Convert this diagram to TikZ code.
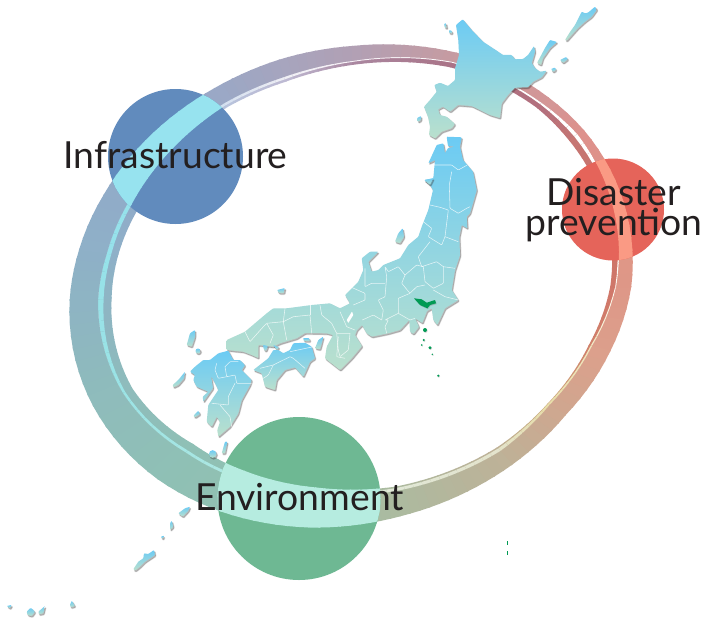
\documentclass[tikz,border=0pt]{standalone}
\usepackage{fontspec}
\setmainfont{Lato}
\definecolor{inkc}{RGB}{35,31,32}
\definecolor{infrac}{RGB}{97,139,189}
\definecolor{disc}{RGB}{229,100,90}
\definecolor{envc}{RGB}{110,184,147}
\definecolor{infrah}{RGB}{151,227,239}
\definecolor{dish}{RGB}{250,154,132}
\definecolor{envh}{RGB}{182,236,224}
\definecolor{mapa}{RGB}{108,203,244}
\definecolor{mapb}{RGB}{186,224,205}
\definecolor{tokyoc}{RGB}{0,154,84}
\def\Kt{{0,14,31,48,78,100,120,135,155,177,187.5,200,235,252,270,294,316,326,345,360}}
\def\KA{{1,4.5,7.5,5.5,2.5,-1,-3,-4,-3,-1,0.5,1.5,1,0,0,-2.5,-1.5,-1.5,0,1}}
\def\KB{{16,23.5,26.5,23.5,28,33,34,34.5,29.4,27.5,28.5,27,19,18,15,7.5,7,6,12,16}}
\def\KC{{17,25,28.5,27,31,36,37,37.5,32,33,33,31,21.5,20.5,16,8.5,9,10,14,17}}
\def\KD{{22,27,29,28.5,32.5,39.6,44,46,40,41,40,39,24,23,19,13.5,14,16.5,20,22}}
\def\Kbr{{222,220,206,190,172,160,145,143,143,142,143,145,155,167,178,200,212,222,225,222}}
\def\Kbg{{152,160,168,178,187,192,192,192,188,180,176,172,168,165,160,155,150,145,150,152}}
\def\Kbb{{136,140,144,152,160,170,178,182,188,196,200,200,198,190,180,160,150,140,135,136}}
\def\Kgr{{255,240,232,228,225,190,176,165,155,152,150,150,215,240,250,255,255,255,255,255}}
\def\Kgg{{250,230,222,228,232,235,232,230,228,226,226,226,225,240,245,255,255,255,255,250}}
\def\Kgb{{240,190,170,205,215,222,226,228,230,232,235,235,240,245,250,255,255,255,255,240}}
\def\Ksr{{208,208,205,190,172,160,145,143,143,142,143,145,185,190,170,170,180,198,205,208}}
\def\Ksg{{120,130,175,178,187,192,192,192,188,180,176,172,195,185,135,115,112,118,115,120}}
\def\Ksb{{106,108,130,152,160,170,178,182,188,196,200,200,220,210,160,135,125,115,105,106}}
\pgfmathdeclarefunction{rE}{1}{\pgfmathparse{31.623*sqrt(4566.5/(58.081*cos(#1)*cos(#1)+12*cos(#1)*sin(#1)+79.242*sin(#1)*sin(#1)))}}
\newcommand\RgVal[2]{% span, frac
  \pgfmathsetmacro\vT{\Kt[#1]*(1-#2)+\Kt[#1+1]*#2}
  \pgfmathsetmacro\vE{rE(\vT)}
  \pgfmathsetmacro\vA{\vE-(\KA[#1]*(1-#2)+\KA[#1+1]*#2)}
  \pgfmathsetmacro\vB{\vE-(\KB[#1]*(1-#2)+\KB[#1+1]*#2)}
  \pgfmathsetmacro\vC{\vE-(\KC[#1]*(1-#2)+\KC[#1+1]*#2)}
  \pgfmathsetmacro\vD{\vE-(\KD[#1]*(1-#2)+\KD[#1+1]*#2)}
}
\newcommand\RgMix[4]{% color name, r-array, g-array, b-array ; uses \kk,\ff
  \pgfmathtruncatemacro\cR{#2[\kk]*(1-\ff)+#2[\kk+1]*\ff}
  \pgfmathtruncatemacro\cG{#3[\kk]*(1-\ff)+#3[\kk+1]*\ff}
  \pgfmathtruncatemacro\cB{#4[\kk]*(1-\ff)+#4[\kk+1]*\ff}
  \definecolor{#1}{RGB}{\cR,\cG,\cB}
}
\newcommand\PT[2]{({352+(#1)*cos(#2)},{286+(#1)*sin(#2)})}
\newcommand\RingSpans{%
  \foreach \kk in {0,...,18}{
    \pgfmathsetmacro\spn{\Kt[\kk+1]-\Kt[\kk]}
    \pgfmathtruncatemacro\NN{max(2,ceil(\spn/2.5))}
    \foreach \j in {1,...,\NN}{
      \pgfmathsetmacro\ff{(\j-1)/\NN}
      \pgfmathsetmacro\fg{\j/\NN+0.35/\spn}
      \RgMix{bandc}{\Kbr}{\Kbg}{\Kbb}
      \RgMix{gapc}{\Kgr}{\Kgg}{\Kgb}
      \RgMix{stripc}{\Ksr}{\Ksg}{\Ksb}
      \RgVal{\kk}{\fg}
      \let\tb\vT \let\Ab\vA \let\Bb\vB \let\Cb\vC \let\Db\vD
      \RgVal{\kk}{\ff}
      \fill[stripc] \PT{\vB}{\vT} -- \PT{\vD}{\vT} -- \PT{\Db}{\tb} -- \PT{\Bb}{\tb} -- cycle;
      \fill[gapc] \PT{\vB}{\vT} -- \PT{\vC}{\vT} -- \PT{\Cb}{\tb} -- \PT{\Bb}{\tb} -- cycle;
      \fill[bandc] \PT{\vA}{\vT} -- \PT{\vB}{\vT} -- \PT{\Bb}{\tb} -- \PT{\Ab}{\tb} -- cycle;
    }
  }
}
\newcommand\RingHL[4]{% spans, inner key (B/C/D), colour, clip circle
  \begin{scope}
    \clip #4;
    \foreach \kk in {#1}{
      \pgfmathsetmacro\spn{\Kt[\kk+1]-\Kt[\kk]}
      \pgfmathtruncatemacro\NN{max(2,ceil(\spn/2.5))}
      \foreach \j in {1,...,\NN}{
        \pgfmathsetmacro\ff{(\j-1)/\NN}
        \pgfmathsetmacro\fg{\j/\NN+0.35/\spn}
        \RgVal{\kk}{\fg}
        \let\tb\vT \let\Ab\vA \edef\Ib{\csname v#2\endcsname}
        \RgVal{\kk}{\ff}
        \edef\Ia{\csname v#2\endcsname}
        \fill[#3] \PT{\vA}{\vT} -- \PT{\Ia}{\vT} -- \PT{\Ib}{\tb} -- \PT{\Ab}{\tb} -- cycle;
      }
    }
  \end{scope}
}
\newcommand\Land[2][]{%
  \path[fill=black,opacity=.13,draw=black,line width=1.2pt,xshift=1pt,yshift=-1.4pt,rounded corners=.8pt,line join=round] #2;
  \path[fill=black!60,opacity=.3,xshift=1pt,yshift=-1.4pt,rounded corners=.8pt] #2;
  \path[top color=mapa,bottom color=mapb,rounded corners=.8pt,#1] #2;
}
\newcommand\Green[1]{%
  \path[fill=black!60,opacity=.3,xshift=.6pt,yshift=-.8pt] #1;
  \path[fill=tokyoc] #1;
}
\tikzset{
  pref/.style={draw=white,opacity=.75,line width=.55pt,line join=round,rounded corners=.6pt},
  lbl/.style={text=inkc,anchor=base,inner sep=0pt,font=\fontsize{37.3}{30}\selectfont},
  ballnode/.style={circle,inner sep=0pt,draw=none}
}
\begin{document}
\begin{tikzpicture}[x=1pt,y=-1pt]
\useasboundingbox (0,0) rectangle (703,618);
\fill[white] (0,0) rectangle (703,618);
\RingSpans
% circles
\node[ballnode,fill=infrac,minimum size=135pt] (infra) at (175.5,156.5) {};
\node[ballnode,fill=disc,minimum size=102pt] (disaster) at (613,209.5) {};
\node[ballnode,fill=envc,minimum size=163pt] (envir) at (299,498.5) {};
\RingHL{10,11,12}{C}{infrah}{(175.5,156.5) circle (67.5pt)}
\RingHL{17,18,0}{B}{dish}{(613,209.5) circle (51pt)}
\RingHL{3,4,5,6}{D}{envh}{(299,498.5) circle (81.5pt)}
% Hokkaido
\Land{(456,25) -- (462.7,19.3) -- (471.7,30) -- (483,41.7) -- (496.7,50.7) -- (503,55) -- (511.7,55) -- (515,59.3) -- (523,59) -- (528,55) -- (534,46) -- (535,51.7) -- (531.7,63) -- (535,68) -- (540,71.7) -- (546.7,70.7) -- (541.7,77.3) -- (533,81.7) -- (528,87.3) -- (515,87.7) -- (508,95) -- (501.7,103.3) -- (500,118) -- (490,115) -- (471.7,106) -- (458,105) -- (450,111.7) -- (443,106.7) -- (438,109.3) -- (440,115) -- (446.7,116.7) -- (455,124) -- (451.7,128.3) -- (441.7,131.7) -- (435,138.3) -- (429,135) -- (430,126.7) -- (428,116.7) -- (424,106.7) -- (430,100) -- (436.7,91.7) -- (434.3,85) -- (440,82.7) -- (448,86) -- (455,80) -- (455,68.3) -- (459,55) -- (458.3,40) -- cycle}
\Land{(444,24) -- (446,23) -- (447,28) -- (445,28) -- cycle}
\Land{(449,30) -- (452,31) -- (452,33.5) -- (449,33) -- cycle}
\Land{(417,118) -- (421,116) -- (421,120) -- (418,122) -- cycle}
\Land{(537,63) -- (545,48) -- (550,40) -- (557,42) -- (550,48) -- (543,58) -- (541,65) -- cycle}
\Land{(565,40) -- (570,32) -- (575,25) -- (581.7,11.7) -- (585,13.3) -- (588,12.7) -- (595,6.7) -- (597,9.3) -- (591.7,16.7) -- (585,21.7) -- (578,28) -- (571.7,35) -- (566.7,40.7) -- cycle}
\Land{(560,60) -- (566,57) -- (568,59) -- (563,63) -- cycle}
\Land{(551,69) -- (555,67.5) -- (556,70) -- (553,72) -- cycle}
% Honshu
\Land{(436.7,145) -- (443.3,143.3) -- (445,153.3) -- (448,148) -- (455,146.7) -- (448,146) -- (446.7,136.7) -- (461.7,137.3) -- (460,146.7) -- (463,160) -- (473,171.7) -- (476.7,190) -- (470,213.3) -- (466.7,216.7) -- (467.3,228.3) -- (461.7,225) -- (459.3,236.7) -- (460,255) -- (455,270) -- (451.7,290) -- (458.3,300) -- (445,308.3) -- (437.3,325) -- (433.3,320) -- (431.7,308.3) -- (427,311) -- (422.3,323) -- (415,318.3) -- (419,326.7) -- (413.3,334) -- (410,331.7) -- (409.3,320) -- (400,330) -- (388.3,333.3) -- (371.7,336.7) -- (366.7,333.3) -- (362,325) -- (357,330) -- (355,335) -- (362,346) -- (352,358) -- (345,365) -- (340,370) -- (325,358.3) -- (326.7,346.7) -- (333,335) -- (326.7,333.3) -- (305,333) -- (296.7,338.3) -- (280,343.3) -- (273.3,346.7) -- (258.3,345) -- (258.3,358) -- (251.7,355) -- (243.3,351.7) -- (226.7,350) -- (226.7,340) -- (245,331.7) -- (266.7,313.3) -- (273.3,308.3) -- (286.7,308.3) -- (311.7,305) -- (330,303.3) -- (340,308.3) -- (350,303.3) -- (345,295) -- (358.3,281.7) -- (363.3,270) -- (361.7,258.3) -- (370,251.7) -- (378.3,251.7) -- (368.3,261.7) -- (371.7,271.7) -- (378.3,270) -- (383.3,265) -- (400,258.3) -- (408.3,245) -- (418.3,236.7) -- (421.7,226.7) -- (428.3,210) -- (433,190) -- (430,185) -- (424.3,180) -- (433.3,178.3) -- (435,160) -- (428.3,163.3) -- cycle}
\fill[white,rounded corners=.5pt] (346.7,320) -- (352,311.5) -- (353.3,315) -- (348.3,323) -- cycle;
\draw[pref] (430,165) -- (451.7,165) -- (458.3,170) -- (467.3,165);
\draw[pref] (451.7,171.7) -- (449.3,185) -- (450,208.3) -- (458.3,213.3) -- (466.7,208.3) -- (470,206.7);
\draw[pref] (430,205) -- (440,207.3) -- (448.3,210) -- (445,236.7) -- (441.7,245) -- (428.3,236.7) -- (431.7,228.3) -- (423.3,221.7);
\draw[pref] (445,236.7) -- (458.3,241.7);
\draw[pref] (430,241.7) -- (418.3,256.7) -- (421.7,266.7) -- (436.7,261.7) -- (443.3,266.7) -- (455,268.3);
\draw[pref] (423.3,266.7) -- (425,281.7) -- (433.3,288.3) -- (443.3,283.3) -- (443.3,266.7);
\draw[pref] (433.3,290) -- (445,296.7) -- (458.3,300);
\draw[pref] (423.3,266.7) -- (416.7,265) -- (405,275) -- (401.7,283.3) -- (410,293.3) -- (416.7,286.7) -- (425,285);
\draw[pref] (405,275) -- (398.3,266.7) -- (388.3,271.7) -- (385,266.7) -- (386.7,276.7) -- (385,296.7) -- (378.3,300) -- (383.3,310) -- (381.7,320);
\draw[pref] (410,293.3) -- (398.3,298.3) -- (398.3,313.3) -- (410,320) -- (415,318.3);
\draw[pref] (398.3,313.3) -- (385,320) -- (388.3,320) -- (385,326.7) -- (386.7,333.3);
\draw[pref] (365,268.3) -- (365,286.7) -- (371.7,283.3) -- (385,283.3);
\draw[pref] (350,286.7) -- (365,293.3) -- (365,300) -- (353.3,305);
\draw[pref] (362.3,320) -- (373.3,315) -- (381.7,320);
\draw[pref] (340,311.7) -- (346.7,326.7) -- (355,330);
\draw[pref] (338.3,336.7) -- (336.7,356.7) -- (345,358.3);
\draw[pref] (285,308.3) -- (283.3,321.7) -- (286.7,340);
\draw[pref] (266.7,323.3) -- (283.3,321.7) -- (293.3,316.7) -- (310,315) -- (311.7,333.3);
\draw[pref] (245,331.7) -- (250,341.7) -- (263.3,326.7) -- (266.7,323.3) -- (273.3,335) -- (270,343.3);
\draw[pref] (310,305) -- (310,315);
\draw[pref] (320,305) -- (321.7,315) -- (331.7,323.3) -- (336.7,333.3) -- (350,333.3);
\draw[pref] (336.7,333.3) -- (338.3,350) -- (340,356.7) -- (348.3,350) -- (350,333.3);
% Tokyo
\Green{(414,298.3) -- (421.7,299.3) -- (426.7,302.7) -- (435,300) -- (436,303.3) -- (430,305) -- (427.3,308.3) -- (420,305) -- cycle}
\Green{(425,330) circle (2pt)}
\Green{(423.7,340) circle (1.2pt)}
\Green{(421.7,345) circle (.8pt)}
\Green{(430,347.7) circle (1.6pt)}
\Green{(432.3,354.3) circle (.8pt)}
\Green{(438.3,375.7) circle (1.2pt)}
\Green{(506.8,540.5) rectangle (507.8,544.5)}
\Green{(506.8,550.5) rectangle (507.8,554.5)}
% islands of Honshu
\Land{(395,241.7) -- (398.3,233.3) -- (402.7,228.3) -- (404,236.7) -- (400,243.3) -- cycle}
\Land{(424.3,180) -- (433.3,178.3) -- (430,185) -- cycle}
\Land{(315,348.3) -- (318.3,340) -- (323.3,336.7) -- (321.7,343.3) -- (320,349.3) -- cycle}
\Land{(303,338) -- (309,338) -- (310,341) -- (304,341) -- cycle}
\Land{(263,345) -- (268,346) -- (266,351) -- (264,350) -- cycle}
\Land{(273,345) -- (279,347) -- (277,350) -- cycle}
\Land{(277,290) -- (285,288) -- (284,293) -- (279,293) -- cycle}
% Shikoku
\Land{(253.3,370) -- (268.3,358.3) -- (273.3,350) -- (278.3,350) -- (283.3,353.3) -- (290,350) -- (293.3,343.3) -- (305,342.7) -- (311.7,346.7) -- (315,358.3) -- (310,361.7) -- (303.3,376.7) -- (295,367.3) -- (285,370) -- (276.7,380) -- (275,390) -- (265,386.7) -- (261.7,373.3) -- cycle}
\draw[pref] (290,351.7) -- (313.3,346.7);
\draw[pref] (260,368.3) -- (273.3,365) -- (290,356.7) -- (293.3,358.3) -- (305,368.3);
\draw[pref] (273.3,365) -- (268.3,375) -- (263.3,378.3);
% Kyushu
\Land{(210,360) -- (218.3,353.3) -- (228.3,350.7) -- (233.3,360) -- (240,360) -- (245,365) -- (241.7,370) -- (251.7,380) -- (250,385) -- (241.7,400) -- (238.3,413.3) -- (230,426.7) -- (218.3,436.7) -- (217.3,430) -- (220,421.7) -- (216.7,416.7) -- (211.7,426.7) -- (206.7,421.7) -- (208.3,405) -- (218.3,390) -- (215,383) -- (211,376) -- (213,388) -- (203.3,401.7) -- (202.7,396.7) -- (208.3,391.7) -- (196.7,386.7) -- (193.3,380) -- (195,375) -- (190,371.7) -- (195,366.7) -- (203.3,360) -- cycle}
\draw[pref] (225,366.7) -- (230,361.7) -- (238.3,361.7);
\draw[pref] (225,366.7) -- (226.7,376.7) -- (235,375) -- (236.7,383.3) -- (251.7,383.3);
\draw[pref] (216.7,363.3) -- (215,370) -- (218.3,378.3) -- (226.7,376.7);
\draw[pref] (235,383.3) -- (228.3,396.7) -- (228.3,405) -- (211.7,403.3);
\draw[pref] (220,405) -- (230,416.7) -- (231.7,426.7);
\Land{(186.7,345) -- (190,333.3) -- (195,330) -- (195,336.7) -- (191.7,346.7) -- cycle}
\Land{(198,351) circle (2.5pt)}
\Land{(172.7,385) -- (178.3,380) -- (185,371.7) -- (184,378.3) -- (178.3,385) -- (173.3,387.3) -- cycle}
\Land{(193.3,416) -- (198.3,410.7) -- (200,414) -- (195,417.3) -- cycle}
\Land{(221.7,453.3) -- (225,441.7) -- (227.3,441.7) -- (225,453.3) -- cycle}
\Land{(212.7,454) circle (3.8pt)}
% Nansei
\Land{(178.3,513.3) -- (185,508.3) -- (190,506.7) -- (188.3,510.7) -- (182.7,516.7) -- cycle}
\Land{(170,523.3) -- (171.7,520.7) -- (173.3,526.7) -- (170,530) -- cycle}
\Land{(160.7,536.7) -- (164,535.7) -- (162.7,539) -- cycle}
\Land{(133.3,569.3) -- (138.3,561.7) -- (143.3,558.3) -- (144,553.3) -- (148.3,554) -- (154,550) -- (155,555) -- (145,561.7) -- (140,566.7) -- (135,570.7) -- cycle}
\Land{(70,605) -- (71.7,600.7) -- (75,606) -- (70.7,607.3) -- cycle}
\Land{(38.3,611.7) -- (45,606) -- (43.3,613.3) -- (39,614.3) -- cycle}
\Land{(26.7,611.7) -- (30.7,607.7) -- (35,611.7) -- (31.7,616) -- (27.7,615) -- cycle}
\Land{(6.7,606) -- (11.7,605) -- (10,608.3) -- cycle}
% labels
\node[lbl] (infratext) at (175.5,168) {Infrastructure};
\node[lbl,align=center,anchor=center] (distext) at (614,210.5) {Disaster\\prevention};
\node[lbl] (envtext) at (299.5,510) {Environment};
\end{tikzpicture}
\end{document}
